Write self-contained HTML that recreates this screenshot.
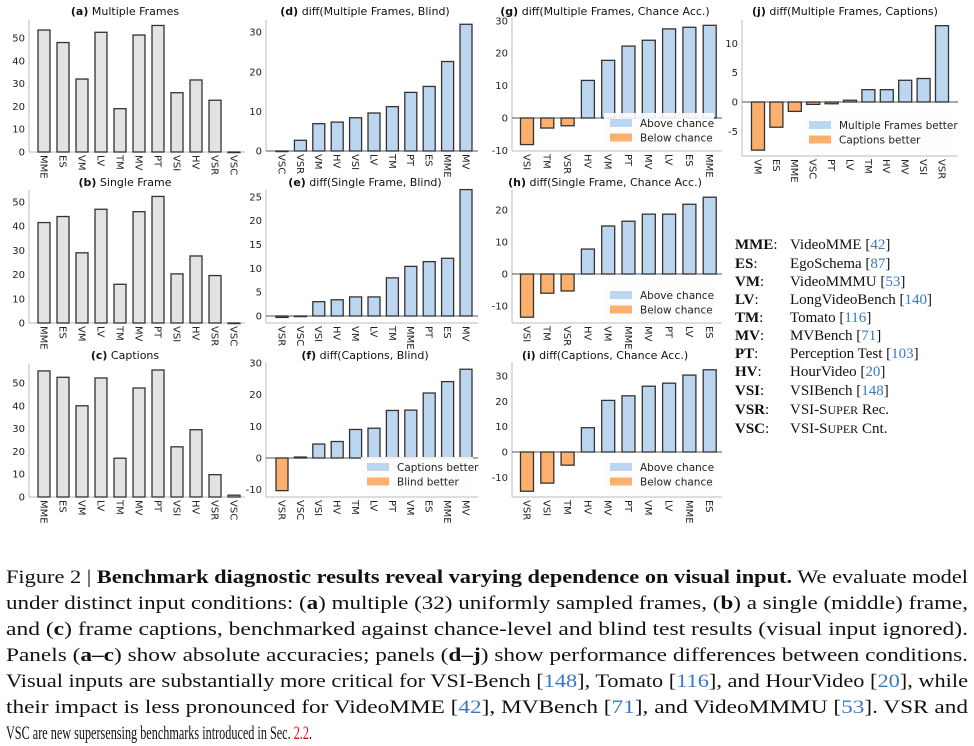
<!DOCTYPE html>
<html><head><meta charset="utf-8"><style>
body{margin:0;background:#fff;width:974px;height:746px;overflow:hidden}
svg{display:block}
.tk{font:10px "DejaVu Sans","Liberation Sans",sans-serif;fill:#222}
.lg{font:10.5px "DejaVu Sans","Liberation Sans",sans-serif;fill:#222}
.ttl{font:11px "DejaVu Sans","Liberation Sans",sans-serif;fill:#111}
.cap{font:19px "Liberation Serif",serif;fill:#111}
.key{font:15px "Liberation Serif",serif;fill:#111}
.cite{fill:#3a78c2}
</style></head><body>
<svg id="fig" width="974" height="746" xmlns="http://www.w3.org/2000/svg">
<g id="charts"></g>
<g class="key">
<text x="735" y="249"><tspan font-weight="bold">MME</tspan>: <tspan x="790">VideoMME [</tspan><tspan class="cite">42</tspan>]</text>
<text x="735" y="268"><tspan font-weight="bold">ES</tspan>: <tspan x="790">EgoSchema [</tspan><tspan class="cite">87</tspan>]</text>
<text x="735" y="286"><tspan font-weight="bold">VM</tspan>: <tspan x="790">VideoMMMU [</tspan><tspan class="cite">53</tspan>]</text>
<text x="735" y="304"><tspan font-weight="bold">LV</tspan>: <tspan x="790">LongVideoBench [</tspan><tspan class="cite">140</tspan>]</text>
<text x="735" y="322"><tspan font-weight="bold">TM</tspan>: <tspan x="790">Tomato [</tspan><tspan class="cite">116</tspan>]</text>
<text x="735" y="340"><tspan font-weight="bold">MV</tspan>: <tspan x="790">MVBench [</tspan><tspan class="cite">71</tspan>]</text>
<text x="735" y="358"><tspan font-weight="bold">PT</tspan>: <tspan x="790">Perception Test [</tspan><tspan class="cite">103</tspan>]</text>
<text x="735" y="376"><tspan font-weight="bold">HV</tspan>: <tspan x="790">HourVideo [</tspan><tspan class="cite">20</tspan>]</text>
<text x="735" y="395"><tspan font-weight="bold">VSI</tspan>: <tspan x="790">VSIBench [</tspan><tspan class="cite">148</tspan>]</text>
<text x="735" y="414"><tspan font-weight="bold">VSR</tspan>: <tspan x="790">VSI-S<tspan font-size="12">UPER</tspan> Rec.</tspan></text>
<text x="735" y="433"><tspan font-weight="bold">VSC</tspan>: <tspan x="790">VSI-S<tspan font-size="12">UPER</tspan> Cnt.</tspan></text>
</g>
<g class="cap">
<text x="6" y="583" textLength="962" lengthAdjust="spacingAndGlyphs">Figure 2 | <tspan font-weight="bold">Benchmark diagnostic results reveal varying dependence on visual input.</tspan> We evaluate model</text>
<text x="6" y="609" textLength="962" lengthAdjust="spacingAndGlyphs">under distinct input conditions: (<tspan font-weight="bold">a</tspan>) multiple (32) uniformly sampled frames, (<tspan font-weight="bold">b</tspan>) a single (middle) frame,</text>
<text x="6" y="635" textLength="962" lengthAdjust="spacingAndGlyphs">and (<tspan font-weight="bold">c</tspan>) frame captions, benchmarked against chance-level and blind test results (visual input ignored).</text>
<text x="6" y="661" textLength="962" lengthAdjust="spacingAndGlyphs">Panels (<tspan font-weight="bold">a–c</tspan>) show absolute accuracies; panels (<tspan font-weight="bold">d–j</tspan>) show performance differences between conditions.</text>
<text x="6" y="687" textLength="962" lengthAdjust="spacingAndGlyphs">Visual inputs are substantially more critical for VSI-Bench [<tspan class="cite">148</tspan>], Tomato [<tspan class="cite">116</tspan>], and HourVideo [<tspan class="cite">20</tspan>], while</text>
<text x="6" y="713" textLength="962" lengthAdjust="spacingAndGlyphs">their impact is less pronounced for VideoMME [<tspan class="cite">42</tspan>], MVBench [<tspan class="cite">71</tspan>], and VideoMMMU [<tspan class="cite">53</tspan>].  VSR and</text>
<text x="6" y="739" textLength="306" lengthAdjust="spacingAndGlyphs">VSC are new supersensing benchmarks introduced in Sec. <tspan fill="#e00">2.2</tspan>.</text>
</g>
</svg>
<script>
// ---- data ----
const catsAbs = ["MME","ES","VM","LV","TM","MV","PT","VSI","HV","VSR","VSC"];
const valsA = [53.5,48,32,52.5,19,51.3,55.5,26,31.6,22.7,0];
const valsB = [41.5,44,29,47,16,46,52.3,20.3,27.7,19.6,0];
const valsC = [55.3,52.5,40,52.2,17,47.8,55.7,22,29.5,9.8,0.8];
const catsD = ["VSC","VSR","VM","HV","VSI","LV","TM","PT","ES","MME","MV"];
const valsD = [0,2.7,6.9,7.3,8.4,9.6,11.2,14.8,16.3,22.6,32];
const catsE = ["VSR","VSC","VSI","HV","VM","LV","TM","MME","PT","ES","MV"];
const valsE = [-0.3,0,3,3.4,4,4,8,10.4,11.4,12.1,26.5];
const catsF = ["VSR","VSC","VSI","HV","TM","LV","PT","VM","ES","MME","MV"];
const valsF = [-10.3,0.3,4.4,5.2,9,9.4,15,15.1,20.5,24.1,28];
const catsG = ["VSI","TM","VSR","HV","VM","PT","MV","LV","ES","MME"];
const valsG = [-8.2,-3.1,-2.4,11.6,17.8,22.2,24,27.5,28,28.6];
const catsH = ["VSI","TM","VSR","HV","VM","MME","MV","PT","LV","ES"];
const valsH = [-13.5,-6,-5.3,7.8,15,16.5,18.7,18.7,21.8,24];
const catsI = ["VSR","VSI","TM","HV","MV","PT","VM","LV","MME","ES"];
const valsI = [-15.5,-12.3,-5.2,9.6,20.4,22.2,26,27.2,30.4,32.5];
const catsJ = ["VM","ES","MME","VSC","PT","LV","TM","HV","MV","VSI","VSR"];
const valsJ = [-8.2,-4.3,-1.6,-0.4,-0.3,0.3,2.1,2.1,3.7,4,13];
const ticksAbs = [0,10,20,30,40,50];
const ticksD = [0,10,20,30];
const ticksE = [0,5,10,15,20,25];
const ticksF = [-10,0,10,20,30];
const ticksG = [-10,0,10,20,30];
const ticksH = [-10,0,10,20];
const ticksI = [-10,0,10,20,30];
const ticksJ = [-5,0,5,10];

const NS="http://www.w3.org/2000/svg";
const root=document.getElementById('charts');
function mk(tag,attrs,parent){const e=document.createElementNS(NS,tag);for(const k in attrs)e.setAttribute(k,attrs[k]);parent.appendChild(e);return e;}

const panels=[
 {id:'a',letter:'(a)',title:' Multiple Frames',cats:catsAbs,vals:valsA,ticks:ticksAbs,left:29,right:245,first:44,step:19,bw:12,zero:152,sc:2.28,bottom:152,top:20,abs:true,tx:125,ty:15},
 {id:'b',letter:'(b)',title:' Single Frame',cats:catsAbs,vals:valsB,ticks:ticksAbs,left:29,right:245,first:44,step:19,bw:12,zero:323,sc:2.42,bottom:323,top:190,abs:true,tx:125,ty:186},
 {id:'c',letter:'(c)',title:' Captions',cats:catsAbs,vals:valsC,ticks:ticksAbs,left:29,right:245,first:44,step:19,bw:12,zero:497,sc:2.28,bottom:497,top:364,abs:true,tx:125,ty:359},
 {id:'d',letter:'(d)',title:' diff(Multiple Frames, Blind)',cats:catsD,vals:valsD,ticks:ticksD,left:266,right:478,first:282,step:18.4,bw:12,zero:151,sc:3.96,bottom:151,top:20,tx:365,ty:15},
 {id:'e',letter:'(e)',title:' diff(Single Frame, Blind)',cats:catsE,vals:valsE,ticks:ticksE,left:266,right:478,first:282,step:18.4,bw:12,zero:316,sc:4.77,bottom:323,top:190,tx:365,ty:186},
 {id:'f',letter:'(f)',title:' diff(Captions, Blind)',cats:catsF,vals:valsF,ticks:ticksF,left:266,right:478,first:282,step:18.4,bw:12,zero:458,sc:3.17,bottom:497,top:362,tx:365,ty:359,
   legend:{x:367,y:467,w:112,labels:['Captions better','Blind better']}},
 {id:'g',letter:'(g)',title:' diff(Multiple Frames, Chance Acc.)',cats:catsG,vals:valsG,ticks:ticksG,left:512,right:722,first:527,step:20.3,bw:13,zero:118,sc:3.24,bottom:151,top:18,tx:605,ty:15,
   legend:{x:610,y:123,w:110,labels:['Above chance','Below chance']}},
 {id:'h',letter:'(h)',title:' diff(Single Frame, Chance Acc.)',cats:catsH,vals:valsH,ticks:ticksH,left:512,right:722,first:527,step:20.3,bw:13,zero:274,sc:3.2,bottom:323,top:190,tx:605,ty:186,
   legend:{x:610,y:295,w:110,labels:['Above chance','Below chance']}},
 {id:'i',letter:'(i)',title:' diff(Captions, Chance Acc.)',cats:catsI,vals:valsI,ticks:ticksI,left:512,right:722,first:527,step:20.3,bw:13,zero:452,sc:2.53,bottom:497,top:362,tx:605,ty:359,
   legend:{x:610,y:467,w:110,labels:['Above chance','Below chance']}},
 {id:'j',letter:'(j)',title:' diff(Multiple Frames, Captions)',cats:catsJ,vals:valsJ,ticks:ticksJ,left:742,right:958,first:758,step:18.4,bw:13,zero:102,sc:5.87,bottom:156,top:20,tx:845,ty:15,
   legend:{x:809,y:125,w:148,labels:['Multiple Frames better','Captions better']}}
];

panels.forEach(p=>{
  const g=mk('g',{},root);
  
  
  const yS=v=>p.zero-v*p.sc;
  const xS=i=>p.first+i*p.step;
  const t=mk('text',{x:p.tx,y:p.ty,'text-anchor':'middle',class:'ttl'},g);
  
  
  const b=mk('tspan',{'font-weight':'bold'},t); b.textContent=p.letter;
  const r=mk('tspan',{},t); r.textContent=p.title;
  const ls=mk('line',{x1:p.left,x2:p.left,y1:p.top,y2:p.bottom,stroke:'#bbb','stroke-width':1},g);
   
  const bs=mk('line',{x1:p.left,x2:p.right,y1:p.bottom,y2:p.bottom,stroke:'#bbb','stroke-width':1},g);
   
  p.ticks.forEach(v=>{
    const tl=mk('text',{x:p.left-4,y:yS(v)+3.5,'text-anchor':'end',class:'tk'},g);
     
    tl.textContent=v;
  });
  if(!p.abs){ const zl=mk('line',{x1:p.left,x2:p.right,y1:p.zero,y2:p.zero,stroke:'#555','stroke-width':1},g);
      }
  p.vals.forEach((v,i)=>{
    const x=xS(i)-p.bw/2, y0=yS(0), y1=yS(v);
    const fill=p.abs?'#e3e3e3':(v>=0?'#bcd6ef':'#fdb06d');
    const rc=mk('rect',{x:x,y:Math.min(y0,y1),width:p.bw,height:Math.max(Math.abs(y1-y0),0.6),fill:fill,stroke:'#333','stroke-width':1.3},g);
    
    
    const cx=xS(i), cy=p.bottom+3;
    const cl=mk('text',{x:cx,y:cy,transform:`rotate(90 ${cx} ${cy})`,class:'tk',dy:'3.6'},g);
     
    cl.textContent=p.cats[i];
  });
  if(p.legend){
    const lg=mk('g',{},g);
     
    mk('rect',{x:p.legend.x-6,y:p.legend.y-10,width:p.legend.w,height:34,fill:'#fdfdfd','fill-opacity':0.9},lg);
    p.legend.labels.forEach((lab,k)=>{
      const yy=p.legend.y+k*14.5;
      const sw=mk('rect',{x:p.legend.x,y:yy-4,width:22,height:8,fill:k===0?'#bcd6ef':'#fdb06d'},lg);
       
      const lt=mk('text',{x:p.legend.x+30,y:yy+4,class:'lg'},lg);
       
      lt.textContent=lab;
    });
  }
});
</script>
</body></html>
